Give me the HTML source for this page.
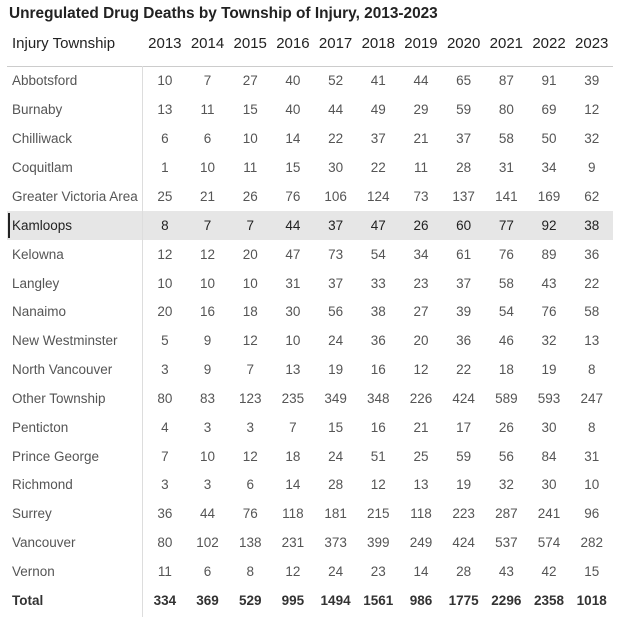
<!DOCTYPE html>
<html><head><meta charset="utf-8"><style>
body{margin:0;width:631px;height:617px;background:#fff;font-family:"Liberation Sans",sans-serif;overflow:hidden;position:relative}
.t{position:absolute;left:9px;top:5px;font-size:15.4px;font-weight:bold;color:#222}
.r{position:absolute;left:7px;width:606px;height:29px;display:flex;align-items:center;font-size:13.5px;color:#555}
.r div:first-child{width:136.5px;padding-left:5px;box-sizing:border-box;text-align:left}
.r div{width:42.7px;text-align:center}
.h{top:29px;font-size:15px;color:#222}
.hl{background:#e6e6e6;color:#222}
.hl:before{content:"";position:absolute;left:1px;top:2px;width:2px;height:25px;background:#222}
.tot{font-weight:bold;color:#333}
.sep{position:absolute;left:7px;top:66px;width:606px;height:1px;background:#ccc}
.v{position:absolute;left:142px;top:66px;width:1px;height:551px;background:#ddd}
</style></head><body>
<div class="t">Unregulated Drug Deaths by Township of Injury, 2013-2023</div>
<div class="r h"><div>Injury Township</div><div>2013</div><div>2014</div><div>2015</div><div>2016</div><div>2017</div><div>2018</div><div>2019</div><div>2020</div><div>2021</div><div>2022</div><div>2023</div></div>
<div class="sep"></div>
<div class="r" style="top:66px"><div>Abbotsford</div><div>10</div><div>7</div><div>27</div><div>40</div><div>52</div><div>41</div><div>44</div><div>65</div><div>87</div><div>91</div><div>39</div></div>
<div class="r" style="top:95px"><div>Burnaby</div><div>13</div><div>11</div><div>15</div><div>40</div><div>44</div><div>49</div><div>29</div><div>59</div><div>80</div><div>69</div><div>12</div></div>
<div class="r" style="top:124px"><div>Chilliwack</div><div>6</div><div>6</div><div>10</div><div>14</div><div>22</div><div>37</div><div>21</div><div>37</div><div>58</div><div>50</div><div>32</div></div>
<div class="r" style="top:153px"><div>Coquitlam</div><div>1</div><div>10</div><div>11</div><div>15</div><div>30</div><div>22</div><div>11</div><div>28</div><div>31</div><div>34</div><div>9</div></div>
<div class="r" style="top:182px"><div>Greater Victoria Area</div><div>25</div><div>21</div><div>26</div><div>76</div><div>106</div><div>124</div><div>73</div><div>137</div><div>141</div><div>169</div><div>62</div></div>
<div class="r hl" style="top:211px"><div>Kamloops</div><div>8</div><div>7</div><div>7</div><div>44</div><div>37</div><div>47</div><div>26</div><div>60</div><div>77</div><div>92</div><div>38</div></div>
<div class="r" style="top:240px"><div>Kelowna</div><div>12</div><div>12</div><div>20</div><div>47</div><div>73</div><div>54</div><div>34</div><div>61</div><div>76</div><div>89</div><div>36</div></div>
<div class="r" style="top:269px"><div>Langley</div><div>10</div><div>10</div><div>10</div><div>31</div><div>37</div><div>33</div><div>23</div><div>37</div><div>58</div><div>43</div><div>22</div></div>
<div class="r" style="top:297px"><div>Nanaimo</div><div>20</div><div>16</div><div>18</div><div>30</div><div>56</div><div>38</div><div>27</div><div>39</div><div>54</div><div>76</div><div>58</div></div>
<div class="r" style="top:326px"><div>New Westminster</div><div>5</div><div>9</div><div>12</div><div>10</div><div>24</div><div>36</div><div>20</div><div>36</div><div>46</div><div>32</div><div>13</div></div>
<div class="r" style="top:355px"><div>North Vancouver</div><div>3</div><div>9</div><div>7</div><div>13</div><div>19</div><div>16</div><div>12</div><div>22</div><div>18</div><div>19</div><div>8</div></div>
<div class="r" style="top:384px"><div>Other Township</div><div>80</div><div>83</div><div>123</div><div>235</div><div>349</div><div>348</div><div>226</div><div>424</div><div>589</div><div>593</div><div>247</div></div>
<div class="r" style="top:413px"><div>Penticton</div><div>4</div><div>3</div><div>3</div><div>7</div><div>15</div><div>16</div><div>21</div><div>17</div><div>26</div><div>30</div><div>8</div></div>
<div class="r" style="top:442px"><div>Prince George</div><div>7</div><div>10</div><div>12</div><div>18</div><div>24</div><div>51</div><div>25</div><div>59</div><div>56</div><div>84</div><div>31</div></div>
<div class="r" style="top:470px"><div>Richmond</div><div>3</div><div>3</div><div>6</div><div>14</div><div>28</div><div>12</div><div>13</div><div>19</div><div>32</div><div>30</div><div>10</div></div>
<div class="r" style="top:499px"><div>Surrey</div><div>36</div><div>44</div><div>76</div><div>118</div><div>181</div><div>215</div><div>118</div><div>223</div><div>287</div><div>241</div><div>96</div></div>
<div class="r" style="top:528px"><div>Vancouver</div><div>80</div><div>102</div><div>138</div><div>231</div><div>373</div><div>399</div><div>249</div><div>424</div><div>537</div><div>574</div><div>282</div></div>
<div class="r" style="top:557px"><div>Vernon</div><div>11</div><div>6</div><div>8</div><div>12</div><div>24</div><div>23</div><div>14</div><div>28</div><div>43</div><div>42</div><div>15</div></div>
<div class="r tot" style="top:586px"><div>Total</div><div>334</div><div>369</div><div>529</div><div>995</div><div>1494</div><div>1561</div><div>986</div><div>1775</div><div>2296</div><div>2358</div><div>1018</div></div>
<div class="v"></div>
</body></html>
